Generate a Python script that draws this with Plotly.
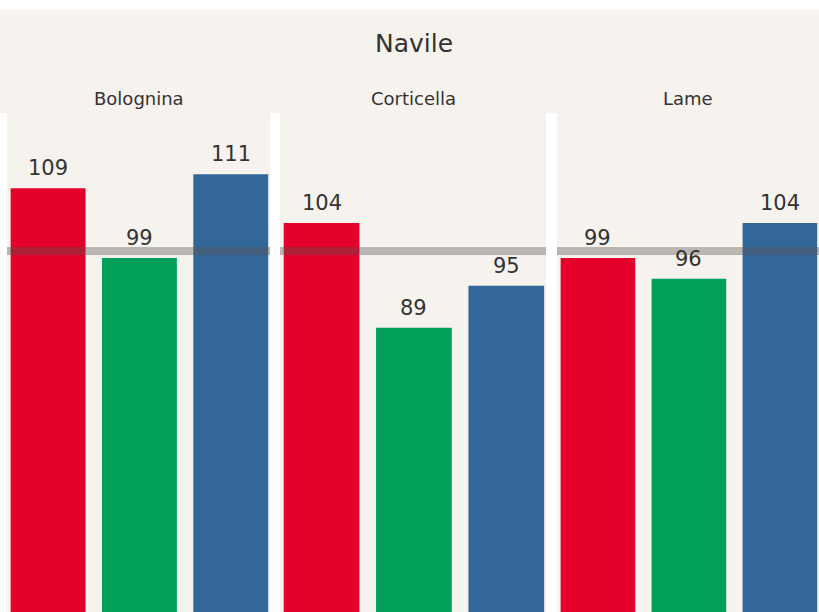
import plotly.graph_objects as go

# ---- data ----
districts = ["Bolognina", "Corticella", "Lame"]
series = ["Serie 1", "Serie 2", "Serie 3"]
values_red = [109, 104, 99]
values_green = [99, 89, 96]
values_blue = [111, 95, 104]
reference = 100
title = "Navile"

colors = ["#e4002b", "#00a05a", "#336699"]
W, H = 819, 612
BEIGE = "#f6f2ee"
TXT = "#333333"
FONT = "DejaVu Sans"

panel_px = [(7, 270), (280, 546), (557, 819)]
plot_top_px = 113
ydom = [0, (H - plot_top_px) / H]
yrange = [48.2, 119.8]

fig = go.Figure()
annotations = []
shapes = []

# header background
shapes.append(dict(type="rect", xref="paper", yref="paper", x0=0, x1=1,
                   y0=ydom[1], y1=(H - 10) / H, fillcolor=BEIGE,
                   line=dict(width=0), layer="below"))

for i, d in enumerate(districts):
    vals = [values_red[i], values_green[i], values_blue[i]]
    xa = "x" if i == 0 else f"x{i+1}"
    ya = "y" if i == 0 else f"y{i+1}"
    fig.add_trace(go.Bar(x=series, y=vals, marker=dict(color=colors, line=dict(width=0)),
                         width=0.82, xaxis=xa, yaxis=ya, showlegend=False,
                         hoverinfo="skip"))
    for s, v in zip(series, vals):
        annotations.append(dict(x=s, y=v, xref=xa, yref=ya, text=str(v),
                                showarrow=False, yanchor="bottom", yshift=6,
                                font=dict(family=FONT, size=21, color=TXT)))
    x0p, x1p = panel_px[i]
    dom = [x0p / W, x1p / W]
    layout_x = dict(domain=dom, range=[-0.45, 2.43], showticklabels=False,
                    showgrid=False, zeroline=False, showline=False, ticks="",
                    fixedrange=True)
    layout_y = dict(domain=ydom, range=yrange, showticklabels=False,
                    showgrid=False, zeroline=False, showline=False, ticks="")
    if i > 0:
        layout_y["matches"] = "y"
    fig.update_layout(**{("xaxis" if i == 0 else f"xaxis{i+1}"): layout_x,
                         ("yaxis" if i == 0 else f"yaxis{i+1}"): layout_y})
    shapes.append(dict(type="line", xref=f"{xa} domain", yref=ya, x0=0, x1=1,
                       y0=reference, y1=reference,
                       line=dict(color="rgba(90,85,80,0.38)", width=8), layer="above"))
    annotations.append(dict(x=(dom[0] + dom[1]) / 2, y=1 - 99 / H, xref="paper", yref="paper",
                            text=d, showarrow=False, yanchor="middle", xanchor="center",
                            font=dict(family=FONT, size=18, color=TXT)))

annotations.append(dict(x=414 / W, y=1 - 44 / H, xref="paper", yref="paper", text=title,
                        showarrow=False, yanchor="middle", xanchor="center",
                        font=dict(family=FONT, size=25, color=TXT)))

fig.update_layout(width=W, height=H, margin=dict(l=0, r=0, t=0, b=0),
                  paper_bgcolor="white", plot_bgcolor=BEIGE,
                  annotations=annotations, shapes=shapes, bargap=0.18)

fig.write_html("out.html")
